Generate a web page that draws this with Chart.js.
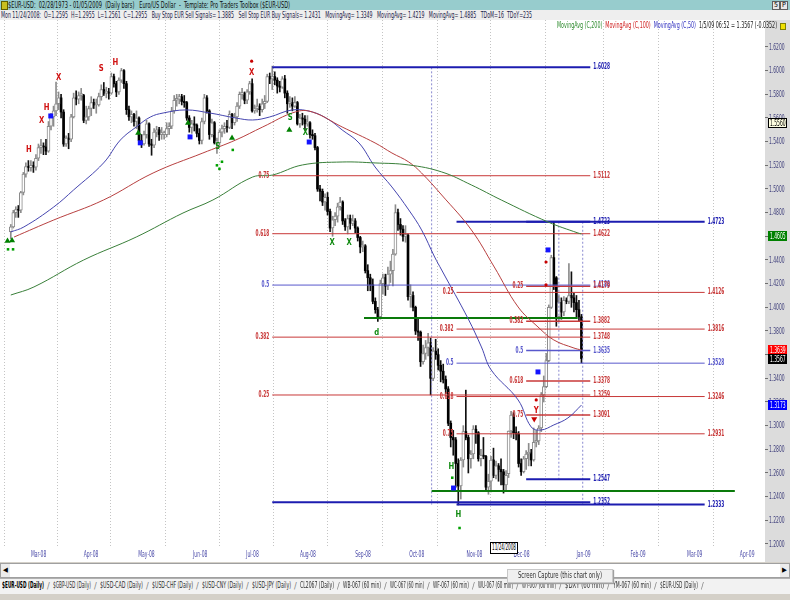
<!DOCTYPE html>
<html>
<head>
<meta charset="utf-8">
<script src="https://cdn.jsdelivr.net/npm/chart.js@4.4.1/dist/chart.umd.min.js"></script>
<style>
  body { margin: 0; background: #ffffff; }
  #wrap { position: relative; width: 790px; height: 600px; overflow: hidden; background: #d4d0c8;
          font-family: "DejaVu Sans Condensed", "Liberation Sans Narrow", "Liberation Sans", sans-serif; }
  canvas { position: absolute; left: 0; top: 0; }
  .row { position: absolute; left: 0; width: 790px; height: 10px; white-space: nowrap; overflow: hidden;
         font-size: 9px; line-height: 10px; }
  #title { top: 0; background: #97cccd; color: #101010; }
  #info { top: 10px; background: #eeeeee; color: #1c1c48; }
  .fit { display: inline-block; transform-origin: 0 50%; white-space: nowrap; }
  #legend { position: absolute; top: 21px; left: 557px; font-size: 8px; line-height: 9px; white-space: nowrap; }
  #sq { position: absolute; left: 780px; top: 23px; width: 4px; height: 5px; background: #f0e000; border: 1px solid #808000; }
  #sp { position: absolute; left: 772px; top: 1px; font-size: 7px; line-height: 7px; color: #000; }
  #sp span { display: inline-block; border: 1px solid #606060; background: #e8e8e8; padding: 0 1px; }
  #icon { position: absolute; left: 1px; top: 1px; width: 5px; height: 7px; background: #c8c020; border: 1px solid #606000; }
  #datebox { position: absolute; left: 490px; top: 542px; width: 26px; height: 10px; background: #fff; border: 1px solid #000;
             font-size: 8px; line-height: 10px; overflow: hidden; }
  #scroll { position: absolute; left: 0; top: 563px; width: 788px; height: 13px; background: #ffffff; border: 1px solid #a0a0a0; }
  .btn { position: absolute; top: 0; width: 9px; height: 13px; background: #ececec; font-size: 7px; line-height: 13px; text-align: center; }
  #tabs { position: absolute; left: 0; top: 578px; width: 790px; height: 15px; background: #f2f2f2; border-top: 1px solid #b0b0b0; }
  .tab { position: absolute; top: 2px; font-size: 8px; line-height: 10px; color: #303030; white-space: nowrap; }
  .slash { position: absolute; top: 2px; font-size: 9px; line-height: 10px; color: #808080; }
  #popup { position: absolute; left: 507px; top: 569px; width: 104px; height: 12px; background: #f0f0f0; border: 1px solid #c8c8c8;
           box-shadow: 1px 1px 1px #a0a0a0; font-size: 8px; line-height: 12px; color: #303030; overflow: hidden; }
</style>
</head>
<body>
<div id="wrap">
  <canvas id="chart" width="790" height="562"></canvas>
  <div id="title" class="row"><div id="icon"></div><span class="fit" data-w="282" style="margin-left:8px">$EUR-USD:&nbsp; 02/28/1973 - 01/05/2009&nbsp; (Daily bars)&nbsp;&nbsp; Euro/US Dollar&nbsp; -&nbsp; Template: Pro Traders Toolbox ($EUR-USD)</span><div id="sp"><span>5</span><span>P</span></div></div>
  <div id="info" class="row"><span class="fit" data-w="531" style="margin-left:1px">Mon 11/24/2008:&nbsp; O=1.2595&nbsp; H=1.2955&nbsp; L=1.2561&nbsp; C=1.2955&nbsp;&nbsp; Buy Stop EUR Sell Signals= 1.3885&nbsp;&nbsp; Sell Stop EUR Buy Signals= 1.2431&nbsp;&nbsp; MovingAvg= 1.3349&nbsp;&nbsp; MovingAvg= 1.4219&nbsp;&nbsp; MovingAvg= 1.4885&nbsp;&nbsp; TDoM=16&nbsp; TDoY=235</span></div>
  <div id="legend"><span class="fit" data-w="220"><span style="color:#2e8b2e">MovingAvg (C,200)</span>&nbsp; <span style="color:#d02020">MovingAvg (C,100)</span>&nbsp; <span style="color:#3030c0">MovingAvg (C,50)</span>&nbsp; <span style="color:#202020">1/5/09 06:52 = 1.3567 (-0.0352)</span></span></div>
  <div id="sq"></div>
  <div id="datebox"><span class="fit" data-w="24" style="margin-left:1px">11/24/2008</span></div>
  <div id="scroll"><div class="btn" style="left:0">&#9664;</div><div class="btn" style="right:0">&#9654;</div></div>
  <div id="tabs"></div>
  <div id="popup"><span class="fit" data-w="84" style="margin-left:10px">Screen Capture (this chart only)</span></div>
</div>

<script>
// Barras diárias EUR/USD, índice 0 = 20/02/2008 ... 227 = 05/01/2009
const opens = [
  1.4640,1.4680,1.4800,1.4825,1.4820,1.4970,1.5125,1.5190,1.5180,1.5200,
  1.5185,1.5260,1.5350,1.5360,1.5355,1.5320,1.5530,1.5610,1.5660,1.5720,
  1.5770,1.5650,1.5380,1.5430,1.5420,1.5610,1.5770,1.5760,1.5790,1.5790,
  1.5580,1.5610,1.5680,1.5730,1.5710,1.5710,1.5780,1.5840,1.5810,1.5820,
  1.5810,1.5950,1.5890,1.5820,1.5920,1.6000,1.5890,1.5670,1.5610,1.5630,
  1.5570,1.5600,1.5410,1.5380,1.5460,1.5550,1.5380,1.5370,1.5480,1.5500,
  1.5460,1.5460,1.5460,1.5510,1.5530,1.5660,1.5750,1.5760,1.5780,1.5740,
  1.5730,1.5600,1.5520,1.5550,1.5540,1.5470,1.5410,1.5570,1.5770,1.5660,
  1.5460,1.5560,1.5390,1.5390,1.5480,1.5510,1.5530,1.5520,1.5630,1.5560,
  1.5610,1.5700,1.5800,1.5810,1.5750,1.5820,1.5890,1.5660,1.5680,1.5700,
  1.5670,1.5720,1.5740,1.5950,1.5930,1.5950,1.5920,1.5870,1.5860,1.5930,
  1.5810,1.5720,1.5730,1.5700,1.5730,1.5550,1.5600,1.5590,1.5550,1.5560,
  1.5460,1.5450,1.5350,1.5000,1.4980,1.4890,1.4930,1.4810,1.4670,1.4740,
  1.4770,1.4850,1.4890,1.4730,1.4680,1.4750,1.4710,1.4730,1.4670,1.4590,
  1.4510,1.4520,1.4310,1.4250,1.4190,1.4050,1.3980,1.3920,1.4200,1.4250,
  1.4180,1.4280,1.4310,1.4450,1.4800,1.4700,1.4660,1.4600,1.4610,1.4090,
  1.4100,1.4000,1.3800,1.3790,1.3540,1.3610,1.3660,1.3700,1.3400,1.3630,
  1.3600,1.3510,1.3460,1.3390,1.3310,1.3020,1.2900,1.2880,1.2680,1.2490,
  1.2710,1.2950,1.2900,1.2720,1.2760,1.2970,1.2940,1.2720,1.2750,1.2740,
  1.2480,1.2530,1.2710,1.2580,1.2660,1.2630,1.2610,1.2500,1.2595,1.2955,
  1.3090,1.2940,1.2930,1.2680,1.2610,1.2720,1.2760,1.2770,1.2710,1.2860,
  1.2870,1.2980,1.3260,1.3330,1.3550,1.4000,1.4420,1.4250,1.3920,1.4040,
  1.3960,1.4060,1.4050,1.4100,1.4080,1.4040,1.3980,1.3919
];
const highs = [
  1.4700,1.4820,1.4850,1.4860,1.4980,1.5140,1.5220,1.5240,1.5240,1.5230,
  1.5290,1.5380,1.5420,1.5390,1.5420,1.5570,1.5640,1.5700,1.5903,1.5820,
  1.5800,1.5670,1.5450,1.5470,1.5630,1.5810,1.5830,1.5820,1.5850,1.5800,
  1.5700,1.5700,1.5780,1.5760,1.5760,1.5810,1.5880,1.5900,1.5860,1.5850,
  1.5980,1.5970,1.5910,1.5940,1.6019,1.6010,1.5910,1.5700,1.5660,1.5640,
  1.5660,1.5610,1.5460,1.5490,1.5580,1.5560,1.5420,1.5510,1.5530,1.5520,
  1.5520,1.5490,1.5560,1.5560,1.5690,1.5790,1.5800,1.5800,1.5800,1.5790,
  1.5740,1.5620,1.5580,1.5610,1.5550,1.5510,1.5600,1.5800,1.5790,1.5670,
  1.5590,1.5570,1.5430,1.5500,1.5540,1.5560,1.5580,1.5660,1.5640,1.5640,
  1.5730,1.5820,1.5850,1.5820,1.5840,1.5910,1.5930,1.5710,1.5760,1.5720,
  1.5760,1.5790,1.5970,1.5980,1.6038,1.5990,1.5940,1.5910,1.5950,1.5960,
  1.5830,1.5780,1.5770,1.5780,1.5740,1.5630,1.5640,1.5620,1.5620,1.5570,
  1.5500,1.5470,1.5360,1.5030,1.5000,1.4960,1.4970,1.4830,1.4770,1.4800,
  1.4880,1.4930,1.4900,1.4750,1.4780,1.4780,1.4780,1.4750,1.4680,1.4600,
  1.4560,1.4530,1.4360,1.4280,1.4240,1.4080,1.4000,1.4230,1.4280,1.4280,
  1.4340,1.4390,1.4490,1.4867,1.4830,1.4750,1.4690,1.4690,1.4620,1.4190,
  1.4130,1.4010,1.3900,1.3800,1.3680,1.3720,1.3780,1.3740,1.3660,1.3730,
  1.3650,1.3550,1.3520,1.3420,1.3330,1.3040,1.2960,1.2900,1.2720,1.2730,
  1.3000,1.3300,1.2920,1.2790,1.3000,1.3000,1.2950,1.2800,1.2900,1.2750,
  1.2590,1.2740,1.2810,1.2700,1.2680,1.2720,1.2630,1.2620,1.2955,1.3120,
  1.3110,1.2990,1.2950,1.2720,1.2740,1.2790,1.2850,1.2800,1.2980,1.2960,
  1.3000,1.3280,1.3420,1.3610,1.4020,1.4440,1.4720,1.4260,1.4100,1.4080,
  1.4090,1.4080,1.4370,1.4300,1.4120,1.4100,1.4060,1.3940
];
const lows = [
  1.4580,1.4670,1.4760,1.4760,1.4800,1.4950,1.5100,1.5150,1.5150,1.5140,
  1.5160,1.5240,1.5300,1.5290,1.5290,1.5310,1.5500,1.5530,1.5620,1.5670,
  1.5600,1.5360,1.5360,1.5340,1.5400,1.5600,1.5710,1.5720,1.5750,1.5560,
  1.5550,1.5580,1.5620,1.5680,1.5640,1.5700,1.5750,1.5790,1.5770,1.5760,
  1.5800,1.5860,1.5780,1.5800,1.5900,1.5850,1.5630,1.5580,1.5560,1.5530,
  1.5510,1.5380,1.5350,1.5370,1.5430,1.5360,1.5285,1.5350,1.5440,1.5410,
  1.5420,1.5420,1.5440,1.5460,1.5510,1.5640,1.5700,1.5720,1.5710,1.5690,
  1.5580,1.5480,1.5470,1.5490,1.5440,1.5380,1.5380,1.5550,1.5640,1.5420,
  1.5440,1.5380,1.5300,1.5370,1.5440,1.5470,1.5480,1.5510,1.5510,1.5540,
  1.5570,1.5680,1.5760,1.5720,1.5720,1.5800,1.5650,1.5640,1.5650,1.5620,
  1.5650,1.5680,1.5730,1.5890,1.5840,1.5880,1.5810,1.5820,1.5850,1.5770,
  1.5640,1.5690,1.5660,1.5690,1.5540,1.5520,1.5540,1.5500,1.5530,1.5430,
  1.5420,1.5330,1.4980,1.4900,1.4860,1.4820,1.4780,1.4640,1.4600,1.4690,
  1.4720,1.4820,1.4700,1.4650,1.4620,1.4660,1.4690,1.4630,1.4560,1.4460,
  1.4470,1.4290,1.4140,1.4140,1.4030,1.3950,1.3880,1.3900,1.4110,1.4100,
  1.4150,1.4210,1.4180,1.4440,1.4650,1.4610,1.4560,1.4550,1.4060,1.4000,
  1.3970,1.3770,1.3720,1.3500,1.3520,1.3560,1.3590,1.3260,1.3380,1.3560,
  1.3470,1.3370,1.3360,1.3270,1.3000,1.2820,1.2750,1.2480,1.2330,1.2380,
  1.2650,1.2880,1.2600,1.2640,1.2720,1.2850,1.2700,1.2660,1.2720,1.2450,
  1.2420,1.2440,1.2560,1.2550,1.2530,1.2500,1.2430,1.2450,1.2561,1.2900,
  1.2890,1.2880,1.2650,1.2580,1.2600,1.2630,1.2660,1.2660,1.2700,1.2820,
  1.2840,1.2950,1.3200,1.3320,1.3540,1.3990,1.4150,1.3840,1.3880,1.3900,
  1.3930,1.4030,1.4030,1.4000,1.3960,1.3920,1.3880,1.3530
];
const closes = [
  1.4680,1.4800,1.4825,1.4820,1.4970,1.5125,1.5190,1.5180,1.5200,1.5185,
  1.5260,1.5350,1.5360,1.5355,1.5320,1.5530,1.5610,1.5660,1.5720,1.5770,
  1.5650,1.5380,1.5430,1.5420,1.5610,1.5770,1.5760,1.5790,1.5790,1.5580,
  1.5610,1.5680,1.5730,1.5710,1.5710,1.5780,1.5840,1.5810,1.5820,1.5810,
  1.5950,1.5890,1.5820,1.5920,1.6000,1.5890,1.5670,1.5610,1.5630,1.5570,
  1.5600,1.5410,1.5380,1.5460,1.5550,1.5380,1.5370,1.5480,1.5500,1.5460,
  1.5460,1.5460,1.5510,1.5530,1.5660,1.5750,1.5760,1.5780,1.5740,1.5730,
  1.5600,1.5520,1.5550,1.5540,1.5470,1.5410,1.5570,1.5770,1.5660,1.5460,
  1.5560,1.5390,1.5390,1.5480,1.5510,1.5530,1.5520,1.5630,1.5560,1.5610,
  1.5700,1.5800,1.5810,1.5750,1.5820,1.5890,1.5660,1.5680,1.5700,1.5670,
  1.5720,1.5740,1.5950,1.5930,1.5950,1.5920,1.5870,1.5860,1.5930,1.5810,
  1.5720,1.5730,1.5700,1.5730,1.5550,1.5600,1.5590,1.5550,1.5560,1.5460,
  1.5450,1.5350,1.5000,1.4980,1.4890,1.4930,1.4810,1.4670,1.4740,1.4770,
  1.4850,1.4890,1.4730,1.4680,1.4750,1.4710,1.4730,1.4670,1.4590,1.4510,
  1.4520,1.4310,1.4250,1.4190,1.4050,1.3980,1.3920,1.4200,1.4250,1.4180,
  1.4280,1.4310,1.4450,1.4800,1.4700,1.4660,1.4600,1.4610,1.4090,1.4100,
  1.4000,1.3800,1.3790,1.3540,1.3610,1.3660,1.3700,1.3400,1.3630,1.3600,
  1.3510,1.3460,1.3390,1.3310,1.3020,1.2900,1.2880,1.2680,1.2490,1.2710,
  1.2950,1.2900,1.2720,1.2760,1.2970,1.2940,1.2720,1.2750,1.2740,1.2480,
  1.2530,1.2710,1.2580,1.2660,1.2630,1.2610,1.2500,1.2580,1.2955,1.3090,
  1.2940,1.2930,1.2680,1.2610,1.2720,1.2760,1.2770,1.2710,1.2860,1.2870,
  1.2980,1.3260,1.3330,1.3550,1.4000,1.4420,1.4180,1.3920,1.4040,1.3960,
  1.4060,1.4050,1.4100,1.4080,1.4040,1.3980,1.3919,1.3567
];

// eixo X: posição (índice de barra) de cada rótulo de mês
const monthTickIdx = [8, 29, 50.7, 72.5, 93.6, 115, 137, 158.5, 181.3, 200, 225, 246.5, 269, 290];
const monthLabels = ['Mar-08','Apr-08','May-08','Jun-08','Jul-08','Aug-08','Sep-08','Oct-08','Nov-08','Dec-08','Jan-09','Feb-09','Mar-09','Apr-09'];
const priceTicks = [1.20,1.22,1.24,1.26,1.28,1.30,1.32,1.34,1.36,1.38,1.40,1.42,1.44,1.46,1.48,1.50,1.52,1.54,1.56,1.58,1.60,1.62];

// médias móveis
const ma50X = [0, 5.2, 17.1, 25, 36.9, 43.6, 49.9, 55.5, 60.6, 69.7, 79.2, 89.5, 96.2, 102.9, 112, 119.9, 126.7, 131.8, 138.5, 144.9, 151.6, 158.3, 163.4, 168.6, 171.4, 182, 187.2, 191.1, 201.8, 207, 210.9, 216, 221.6, 227];
const ma50Y = [1.4637, 1.4679, 1.4848, 1.4992, 1.5220, 1.5414, 1.5524, 1.5608, 1.5642, 1.5668, 1.5642, 1.5600, 1.5583, 1.5608, 1.5668, 1.5651, 1.5583, 1.5499, 1.5389, 1.5186, 1.5017, 1.4823, 1.4654, 1.4425, 1.4315, 1.3900, 1.3665, 1.3470, 1.3217, 1.2989, 1.2963, 1.3006, 1.3065, 1.3174];
const ma100X = [1.3, 17.1, 36.9, 56.6, 76.4, 89.5, 100.2, 113.2, 119.9, 131.8, 144.9, 151.6, 158.3, 163.4, 171.4, 183.2, 192.3, 201.8, 209.7, 216, 224, 227];
const ma100Y = [1.4594, 1.4738, 1.4907, 1.5135, 1.5304, 1.5414, 1.5524, 1.5651, 1.5651, 1.5524, 1.5389, 1.5304, 1.5228, 1.5135, 1.4949, 1.4654, 1.4341, 1.4003, 1.3834, 1.3724, 1.3656, 1.3639];
const ma200X = [0, 9.2, 29, 49.9, 68.5, 80.4, 96.2, 104.1, 116, 131.8, 144.9, 158.3, 171.4, 183.2, 195.1, 213.7, 225.6, 227];
const ma200Y = [1.4104, 1.4172, 1.4400, 1.4594, 1.4797, 1.4907, 1.5101, 1.5118, 1.5203, 1.5228, 1.5220, 1.5203, 1.5144, 1.5034, 1.4907, 1.4721, 1.4628, 1.4620];

// retrações de Fibonacci: níveis, rótulos e extensão em barras
const fibLeftSpan = [104, 230.5];
const fibLeftLevels = [1.6028, 1.5112, 1.4622, 1.4188, 1.3748, 1.3259, 1.2352];
const fibLeftRatios = ['', '0.75', '0.618', '0.5', '0.382', '0.25', ''];
const fibRightSpan = [177.3, 276];
const fibRightLevels = [1.4723, 1.4126, 1.3816, 1.3528, 1.3246, 1.2931, 1.2333];
const fibRightRatios = ['', '0.25', '0.382', '0.5', '0.618', '0.75', ''];
const fibMidSpan = [205, 230.5];
const fibMidLevels = [1.4723, 1.4179, 1.3882, 1.3635, 1.3378, 1.3091, 1.2547];
const fibMidRatios = ['', '0.25', '0.382', '0.5', '0.618', '0.75', ''];

const supportLevels = [1.3909, 1.2447];
const supportFrom = [140.5, 167.4];
const supportTo = [225.5, 288];
const timeLineX = [167.4, 218, 227.5];
const timeLineTop = [1.6028, 1.4723, 1.4723];
const timeLineBottom = [1.2333, 1.2547, 1.2333];

// sinais
const greenTriX = [-1.3, 0.5, 50.7, 70.5, 88, 110.8];
const greenTriY = [1.4560, 1.4565, 1.5473, 1.5558, 1.5431, 1.5498];
const blueSqX = [15.9, 51.5, 71.3, 118.7, 213.7, 209.7, 176.1];
const blueSqY = [1.5617, 1.5390, 1.5440, 1.5397, 1.4485, 1.3454, 1.2473];
const greenDotX = [-1.1, 0.9, 82, 83, 84, 88.3, 178.5, 175.6];
const greenDotY = [1.4490, 1.4490, 1.5200, 1.5170, 1.5230, 1.5330, 1.2135, 1.2560];
const redDotX = [209, 212.9, 212.9, 95.8];
const redDotY = [1.3217, 1.4383, 1.4190, 1.6080];
const redDownX = [208.2];
const redDownY = [1.3056];
const letterX = [7.2, 12.3, 14.3, 19, 36, 41.6, 95.8, 82.3, 111.2, 117.2, 127.8, 134.6, 145.6, 175.3, 178, 209];
const letterY = [1.533, 1.558, 1.569, 1.594, 1.602, 1.6065, 1.598, 1.536, 1.560, 1.5473, 1.4543, 1.4543, 1.379, 1.265, 1.2245, 1.313];
const letterText = ['H','X','H','X','S','H','X','S','S','X','X','X','d','H','H','Y'];
const letterRed = [1,1,1,1,1,1,1,0,0,0,0,0,0,0,0,1];

// caixas de valor no eixo de preços
const axisBoxValues = [1.5560, 1.4605, 1.3639, 1.3567, 1.3173];
const axisBoxFill = ['#ffffe1', '#008000', '#ff0000', '#000000', '#0000ff'];
const axisBoxText = ['#000000', '#ffffff', '#ffffff', '#ffffff', '#ffffff'];

const tabNames = ['$EUR-USD (Daily)','$GBP-USD (Daily)','$USD-CAD (Daily)','$USD-CHF (Daily)','$USD-CNY (Daily)','$USD-JPY (Daily)','CL2067 (Daily)','WB-067 (60 min)','WC-067 (60 min)','WF-067 (60 min)','WU-067 (60 min)','WT-067 (60 min)','$DXY (60 min)','YM-067 (60 min)','$EUR-USD (Daily)'];
const tabLeft = [2, 53, 100, 152, 202, 252, 300, 343, 390, 433, 478, 522, 565, 613, 660];

const FONT = '"DejaVu Sans Condensed", "Liberation Sans Narrow", sans-serif';
const SQUEEZE = 0.62;

function pts(xs, ys) {
  return xs.map((x, i) => ({ x: x, y: ys[i] }));
}

function fibColor(r) {
  if (r === '') return '#1c1cb0';
  if (r === '0.5') return '#5858cc';
  return '#c83838';
}

function fibDatasets(span, levels, ratios, width) {
  return levels.map((lv, i) => ({
    type: 'line',
    data: [{ x: span[0], y: lv }, { x: span[1], y: lv }],
    borderColor: fibColor(ratios[i]),
    borderWidth: ratios[i] === '' ? 2 : width,
    pointRadius: 0,
    order: 5
  }));
}

function markerSet(xs, ys, style, color, radius, rotation) {
  return {
    type: 'line',
    data: pts(xs, ys),
    showLine: false,
    pointStyle: style,
    pointRadius: radius,
    pointRotation: rotation || 0,
    pointBackgroundColor: color,
    pointBorderColor: color,
    pointBorderWidth: 0,
    order: 1
  };
}

// texto comprimido na horizontal, como a fonte estreita do original
function squeezeText(ctx, text, x, y, align, k) {
  ctx.save();
  ctx.translate(x, y);
  ctx.scale(k, 1);
  ctx.textAlign = align;
  ctx.fillText(text, 0, 0);
  ctx.restore();
}

const fibSets = [
  { span: fibLeftSpan, levels: fibLeftLevels, ratios: fibLeftRatios },
  { span: fibRightSpan, levels: fibRightLevels, ratios: fibRightRatios },
  { span: fibMidSpan, levels: fibMidLevels, ratios: fibMidRatios }
];

const up = closes.map((c, i) => c >= opens[i]);

const datasets = [
  {
    type: 'bar',
    data: highs.map((h, i) => ({ x: i, y: [lows[i], h] })),
    backgroundColor: up.map(u => u ? '#8c8c8c' : '#101010'),
    barThickness: 1,
    grouped: false,
    order: 10
  },
  {
    type: 'bar',
    data: opens.map((o, i) => ({ x: i, y: up[i] ? [o, closes[i]] : null })),
    backgroundColor: '#ffffff',
    borderColor: '#8a8a8a',
    borderWidth: 1,
    borderSkipped: false,
    barThickness: 3,
    minBarLength: 2,
    grouped: false,
    order: 9
  },
  {
    type: 'bar',
    data: opens.map((o, i) => ({ x: i, y: up[i] ? null : [o, closes[i]] })),
    backgroundColor: '#000000',
    barThickness: 2,
    minBarLength: 1,
    grouped: false,
    order: 9
  },
  ...fibDatasets(fibLeftSpan, fibLeftLevels, fibLeftRatios, 1),
  ...fibDatasets(fibRightSpan, fibRightLevels, fibRightRatios, 1),
  ...fibDatasets(fibMidSpan, fibMidLevels, fibMidRatios, 1.5),
  ...supportLevels.map((lv, i) => ({
    type: 'line',
    data: [{ x: supportFrom[i], y: lv }, { x: supportTo[i], y: lv }],
    borderColor: '#0a7a0a', borderWidth: 2, pointRadius: 0, order: 4
  })),
  ...timeLineX.map((x, i) => ({
    type: 'line',
    data: [{ x: x, y: timeLineTop[i] }, { x: x, y: timeLineBottom[i] }],
    borderColor: '#8a8ad0', borderWidth: 1, borderDash: [2, 2], pointRadius: 0, order: 6
  })),
  { type: 'line', data: pts(ma200X, ma200Y), borderColor: '#3a803a', borderWidth: 1, pointRadius: 0, tension: 0.4, order: 3 },
  { type: 'line', data: pts(ma100X, ma100Y), borderColor: '#b84040', borderWidth: 1, pointRadius: 0, tension: 0.4, order: 3 },
  { type: 'line', data: pts(ma50X, ma50Y), borderColor: '#4646b0', borderWidth: 1, pointRadius: 0, tension: 0.4, order: 3 },
  markerSet(greenTriX, greenTriY, 'triangle', '#008000', 3.5),
  markerSet(blueSqX, blueSqY, 'rect', '#1414ff', 3.5),
  markerSet(greenDotX, greenDotY, 'rect', '#00a000', 1.8),
  markerSet(redDotX, redDotY, 'circle', '#c80000', 1.6),
  markerSet(redDownX, redDownY, 'triangle', '#c80000', 3.5, 180)
];

const overlay = {
  id: 'overlay',
  beforeDraw(chart) {
    const { ctx, chartArea: a, width, height } = chart;
    ctx.save();
    ctx.fillStyle = '#ffffff';
    ctx.fillRect(0, 0, width, height);
    ctx.fillStyle = '#dcdcdc';
    ctx.fillRect(a.right, a.top, width - a.right, height - a.top);
    ctx.restore();
  },
  afterDatasetsDraw(chart) {
    const { ctx } = chart;
    const xs = chart.scales.x, ys = chart.scales.y;
    ctx.save();
    ctx.textBaseline = 'middle';
    ctx.font = 'bold 8px ' + FONT;
    fibSets.forEach(set => {
      const x0 = xs.getPixelForValue(set.span[0]);
      const x1 = xs.getPixelForValue(set.span[1]);
      set.levels.forEach((lv, i) => {
        const y = ys.getPixelForValue(lv);
        ctx.fillStyle = fibColor(set.ratios[i]);
        if (set.ratios[i] !== '') squeezeText(ctx, set.ratios[i], x0 - 3, y, 'right', 0.6);
        squeezeText(ctx, lv.toFixed(4), x1 + 3, y, 'left', 0.6);
      });
    });
    ctx.font = 'bold 9px ' + FONT;
    letterText.forEach((t, i) => {
      ctx.fillStyle = letterRed[i] ? '#d01010' : '#108a10';
      squeezeText(ctx, t, xs.getPixelForValue(letterX[i]), ys.getPixelForValue(letterY[i]), 'center', 0.85);
    });
    ctx.restore();
  },
  afterDraw(chart) {
    const { ctx, chartArea: a } = chart;
    const xs = chart.scales.x, ys = chart.scales.y;
    ctx.save();
    ctx.font = '8px ' + FONT;
    ctx.textBaseline = 'middle';
    // rótulos dos eixos
    ctx.fillStyle = '#40407c';
    priceTicks.forEach(v => squeezeText(ctx, v.toFixed(4), a.right + 4, ys.getPixelForValue(v) + 0.5, 'left', SQUEEZE));
    ctx.fillStyle = '#4a4aa8';
    monthTickIdx.forEach((v, i) => squeezeText(ctx, monthLabels[i], xs.getPixelForValue(v), a.bottom + 7, 'left', SQUEEZE));
    // caixas de valor
    axisBoxValues.forEach((v, i) => {
      const y = Math.round(ys.getPixelForValue(v));
      ctx.fillStyle = axisBoxFill[i];
      ctx.fillRect(a.right + 3, y - 5, 19, 10);
      if (i === 0) {
        ctx.strokeStyle = '#000';
        ctx.strokeRect(a.right + 3.5, y - 4.5, 18, 9);
      }
      ctx.fillStyle = axisBoxText[i];
      squeezeText(ctx, v.toFixed(4), a.right + 5, y + 0.5, 'left', SQUEEZE);
    });
    ctx.restore();
  }
};

new Chart(document.getElementById('chart'), {
  type: 'line',
  data: { datasets: datasets },
  options: {
    responsive: false,
    animation: false,
    devicePixelRatio: 1,
    layout: { padding: { top: 20, left: 0, right: 0, bottom: 0 } },
    plugins: { legend: { display: false }, tooltip: { enabled: false } },
    scales: {
      x: {
        type: 'linear',
        min: -2.7,
        max: 300,
        offset: false,
        afterBuildTicks: s => { s.ticks = monthTickIdx.map(v => ({ value: v })); },
        afterFit: s => { s.height = 14; },
        ticks: { display: false, autoSkip: false },
        grid: { color: '#c4c4c4', lineWidth: 1, drawTicks: false },
        border: { display: false, dash: [1, 2] }
      },
      y: {
        type: 'linear',
        position: 'right',
        min: 1.1966,
        max: 1.6428,
        afterBuildTicks: s => { s.ticks = priceTicks.map(v => ({ value: v })); },
        afterFit: s => { s.width = 25; },
        ticks: { display: false },
        grid: { drawOnChartArea: false, drawTicks: true, tickLength: 3, color: '#707070' },
        border: { display: false }
      }
    }
  },
  plugins: [overlay]
});

// abas da parte de baixo
const tabs = document.getElementById('tabs');
tabNames.forEach((name, i) => {
  const el = document.createElement('div');
  el.className = 'tab';
  el.style.left = tabLeft[i] + 'px';
  const span = document.createElement('span');
  span.className = 'fit';
  span.dataset.w = i < tabNames.length - 1 ? tabLeft[i + 1] - tabLeft[i] - 9 : 38;
  if (i === 0) { span.style.fontWeight = 'bold'; el.style.color = '#000'; }
  span.textContent = name;
  el.appendChild(span);
  tabs.appendChild(el);
  const sl = document.createElement('div');
  sl.className = 'slash';
  sl.style.left = (i < tabNames.length - 1 ? tabLeft[i + 1] - 6 : tabLeft[i] + 41) + 'px';
  sl.textContent = '/';
  tabs.appendChild(sl);
});

// comprimir os textos para a largura do original
document.querySelectorAll('[data-w]').forEach(el => {
  const w = el.getBoundingClientRect().width;
  el.style.transform = 'scaleX(' + (parseFloat(el.dataset.w) / w) + ')';
});
</script>
</body>
</html>
